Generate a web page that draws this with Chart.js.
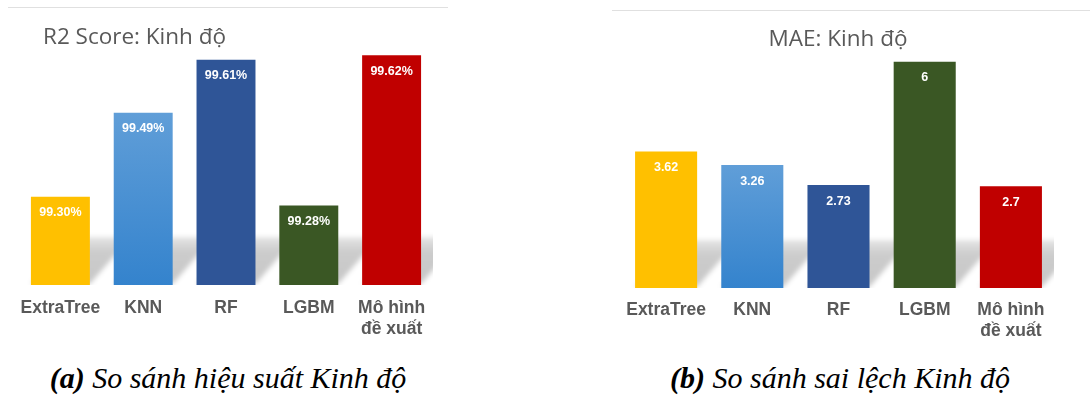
<!DOCTYPE html>
<html>
<head>
<meta charset="utf-8">
<script src="https://cdn.jsdelivr.net/npm/chart.js@4.4.1/dist/chart.umd.min.js"></script>
<style>
  html, body { margin: 0; padding: 0; background: #fff; }
  body { width: 1090px; height: 399px; position: relative; overflow: hidden; }
  .panel { position: absolute; top: 0; }
  #panelA { left: 0; width: 455px; height: 345px; }
  #panelB { left: 600px; width: 490px; height: 348px; }
  .rule { position: absolute; height: 0; border-top: 1px solid #e0e0e0; }
  .caption {
    position: absolute; top: 363px; width: 440px;
    font-family: 'Liberation Serif', 'Times New Roman', serif;
    font-style: italic; font-size: 30px; line-height: 30px;
    color: #000; text-align: center; white-space: nowrap;
  }
</style>
</head>
<body>
<div class="rule" style="left:8px; top:7px; width:440px"></div>
<div class="rule" style="left:612px; top:10px; width:478px"></div>
<div class="panel" id="panelA"><canvas id="r2Chart"></canvas></div>
<div class="panel" id="panelB"><canvas id="maeChart"></canvas></div>
<div class="caption" style="left:8px"><b>(a)</b> So sánh hiệu suất Kinh độ</div>
<div class="caption" style="left:620px"><b>(b)</b> So sánh sai lệch Kinh độ</div>

<script>
// Models compared, and their scores on the longitude target
const models = ['ExtraTree', 'KNN', 'RF', 'LGBM', ['Mô hình', 'đề xuất']];
const r2Scores = [99.30, 99.49, 99.61, 99.28, 99.62];   // percent
const maeValues = [3.62, 3.26, 2.73, 6, 2.7];

const barColors = ['#FFC000', '#4A90D3', '#2F5597', '#3A5724', '#C00000'];
const LABEL_GRAY = '#595959';

// KNN gets a light-to-dark blue gradient, the others are flat
function barFill(context) {
  const chart = context.chart;
  const area = chart.chartArea;
  if (context.dataIndex !== 1 || !area) return barColors[context.dataIndex];
  const top = chart.scales.y.getPixelForValue(context.raw);
  const g = chart.ctx.createLinearGradient(0, top, 0, area.bottom);
  g.addColorStop(0, '#609ED8');
  g.addColorStop(1, '#3483CD');
  return g;
}

// Soft perspective shadow cast up and to the right behind each bar
const floorShadow = {
  id: 'floorShadow',
  beforeDatasetsDraw(chart) {
    const { ctx, chartArea } = chart;
    const meta = chart.getDatasetMeta(0);
    ctx.save();
    ctx.beginPath();
    ctx.rect(chartArea.left, chartArea.top, chartArea.right - chartArea.left, chartArea.bottom - chartArea.top);
    ctx.clip();
    ctx.filter = 'blur(2.5px)';
    meta.data.forEach(bar => {
      const { x, y, width } = bar.getProps(['x', 'y', 'width'], true);
      // bars on a non-zero axis start below the plot, so use the plot floor
      const base = chartArea.bottom;
      const lift = Math.min(48, (base - y) * 0.6);
      const skew = lift * 0.85;
      const left = x - width / 2, right = x + width / 2;
      const g = ctx.createLinearGradient(0, base, 0, base - lift);
      g.addColorStop(0, 'rgba(0,0,0,0.22)');
      g.addColorStop(0.7, 'rgba(0,0,0,0.20)');
      g.addColorStop(1, 'rgba(0,0,0,0.10)');
      ctx.fillStyle = g;
      ctx.beginPath();
      ctx.moveTo(left, base - 1);
      ctx.lineTo(right, base - 1);
      ctx.lineTo(right + skew, base - lift);
      ctx.lineTo(left + skew, base - lift);
      ctx.closePath();
      ctx.fill();
    });
    ctx.restore();
  }
};

// White value text just inside the top of each bar
const barValues = {
  id: 'barValues',
  afterDatasetsDraw(chart, args, opts) {
    const { ctx } = chart;
    const meta = chart.getDatasetMeta(0);
    const data = chart.data.datasets[0].data;
    ctx.save();
    ctx.font = 'bold 12.5px "Liberation Sans", Arial, sans-serif';
    ctx.fillStyle = '#ffffff';
    ctx.textAlign = 'center';
    ctx.textBaseline = 'middle';
    meta.data.forEach((bar, i) => {
      const v = data[i];
      const text = opts.digits != null ? v.toFixed(opts.digits) + (opts.suffix || '') : String(v);
      ctx.fillText(text, bar.x, bar.y + 16);
    });
    ctx.restore();
  }
};

// Chart heading placed freely (the left one is not centred)
const headline = {
  id: 'headline',
  afterDraw(chart, args, opts) {
    const { ctx } = chart;
    ctx.save();
    ctx.font = '22.5px "Open Sans", sans-serif';
    ctx.fillStyle = LABEL_GRAY;
    ctx.textAlign = opts.align;
    ctx.textBaseline = 'alphabetic';
    ctx.fillText(opts.text, opts.x, opts.y);
    ctx.restore();
  }
};

function makeChart(canvasId, values, cfg) {
  return new Chart(document.getElementById(canvasId), {
    type: 'bar',
    data: {
      labels: models,
      datasets: [{
        data: values,
        backgroundColor: barFill,
        borderWidth: 0,
        barPercentage: cfg.barPercentage,
        categoryPercentage: 1
      }]
    },
    options: {
      responsive: true,
      maintainAspectRatio: false,
      animation: false,
      layout: { padding: cfg.padding },
      plugins: {
        legend: { display: false },
        tooltip: { enabled: false },
        title: { display: false },
        headline: cfg.headline,
        barValues: cfg.valueFormat
      },
      scales: {
        x: {
          grid: { display: false, drawTicks: false },
          border: { display: false },
          ticks: {
            color: LABEL_GRAY,
            padding: cfg.tickPadding,
            maxRotation: 0,
            autoSkip: false,
            font: { family: '"Liberation Sans", Arial, sans-serif', size: 17.5, weight: 'bold', lineHeight: 1.22 }
          },
          afterFit(scale) { scale.height = 60; }
        },
        y: {
          display: false,
          min: cfg.min,
          max: cfg.max
        }
      }
    },
    plugins: [floorShadow, barValues, headline]
  });
}

makeChart('r2Chart', r2Scores, {
  min: 99.10, max: 99.65,
  barPercentage: 0.712,
  tickPadding: 12,
  padding: { left: 19, right: 22, top: 42, bottom: 0 },
  headline: { text: 'R2 Score: Kinh độ', x: 43, y: 44, align: 'left' },
  valueFormat: { digits: 2, suffix: '%' }
});

makeChart('maeChart', maeValues, {
  min: 0, max: 6.5,
  barPercentage: 0.72,
  tickPadding: 11,
  padding: { left: 23, right: 36, top: 43, bottom: 0 },
  headline: { text: 'MAE: Kinh độ', x: 238, y: 46, align: 'center' },
  valueFormat: { digits: null }
});
</script>
</body>
</html>
